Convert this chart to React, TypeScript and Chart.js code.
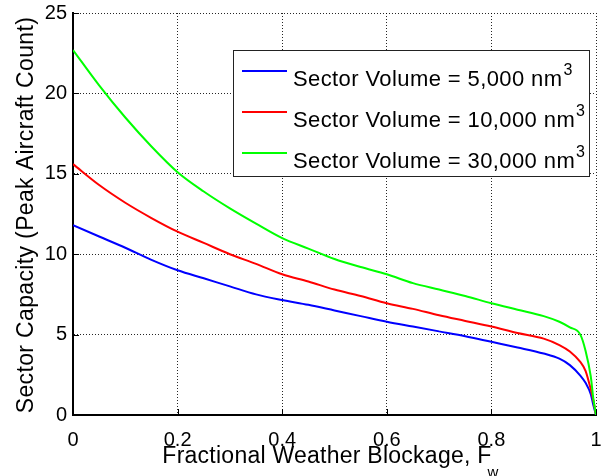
import React, { useEffect, useRef } from "react";
import { Chart, registerables } from "chart.js";

Chart.register(...registerables);

// ---------- data ----------
const fractionalBlockage = [
  0, 0.05, 0.1, 0.15, 0.2, 0.25, 0.3, 0.35, 0.4, 0.45, 0.5, 0.55, 0.6, 0.65,
  0.7, 0.75, 0.8, 0.85, 0.9, 0.93, 0.95, 0.97, 0.98, 0.99, 0.995, 1,
];
const capacity5000 = [
  11.8, 11.1, 10.4, 9.65, 9.0, 8.5, 8.0, 7.5, 7.15, 6.85, 6.5, 6.15, 5.8, 5.5,
  5.2, 4.9, 4.55, 4.2, 3.82, 3.5, 3.1, 2.45, 2.0, 1.3, 0.6, 0,
];
const capacity10000 = [
  15.6, 14.3, 13.2, 12.25, 11.4, 10.7, 10.0, 9.4, 8.75, 8.3, 7.8, 7.4, 6.95,
  6.6, 6.2, 5.85, 5.5, 5.1, 4.75, 4.35, 3.95, 3.3, 2.75, 1.6, 0.9, 0,
];
const capacity30000 = [
  22.7, 20.5, 18.5, 16.7, 15.1, 13.9, 12.85, 11.9, 11.0, 10.35, 9.7, 9.2, 8.75,
  8.2, 7.8, 7.4, 6.95, 6.55, 6.15, 5.8, 5.45, 5.0, 4.0, 2.4, 1.0, 0,
];
const seriesLabels = [
  "Sector Volume = 5,000 nm",
  "Sector Volume = 10,000 nm",
  "Sector Volume = 30,000 nm",
];
const unitSuperscript = "3";
const seriesColors = ["#0000ff", "#ff0000", "#00ff00"];
const xTickLabels = ["0", "0.2", "0.4", "0.6", "0.8", "1"];
const yTickLabels = ["0", "5", "10", "15", "20", "25"];
const xAxisTitle = "Fractional Weather Blockage, F";
const xAxisSubscript = "w";
const yAxisTitle = "Sector Capacity (Peak Aircraft Count)";

const FONT = "'Liberation Sans', Arial, Helvetica, sans-serif";

const decorations = {
  id: "decorations",
  afterDraw(chart: any) {
    const { ctx, chartArea, scales } = chart;
    const xs = scales.x;
    const ys = scales.y;
    ctx.save();
    // inward tick marks
    ctx.strokeStyle = "#000";
    ctx.lineWidth = 1;
    ctx.setLineDash([]);
    ctx.beginPath();
    for (const t of xs.ticks) {
      const px = Math.round(xs.getPixelForValue(t.value)) + 0.5;
      ctx.moveTo(px, chartArea.bottom);
      ctx.lineTo(px, chartArea.bottom - 6);
    }
    for (const t of ys.ticks) {
      const py = Math.round(ys.getPixelForValue(t.value)) + 0.5;
      ctx.moveTo(chartArea.left, py);
      ctx.lineTo(chartArea.left + 6, py);
    }
    ctx.stroke();

    // legend
    const lx = chartArea.right - 363;
    const ly = chartArea.top + 37;
    ctx.fillStyle = "#fff";
    ctx.fillRect(lx, ly, 356, 126);
    ctx.strokeStyle = "#222";
    ctx.lineWidth = 1;
    ctx.strokeRect(lx + 0.5, ly + 0.5, 356, 126);
    for (let i = 0; i < seriesLabels.length; i++) {
      const lineY = ly + 21 + i * 41;
      ctx.strokeStyle = seriesColors[i];
      ctx.lineWidth = 2;
      ctx.beginPath();
      ctx.moveTo(lx + 9, lineY);
      ctx.lineTo(lx + 54, lineY);
      ctx.stroke();
      ctx.fillStyle = "#000";
      ctx.textAlign = "left";
      ctx.textBaseline = "alphabetic";
      ctx.font = `22px ${FONT}`;
      (ctx as any).letterSpacing = "0.4px";
      const tx = lx + 60;
      const base = lineY + 15;
      ctx.fillText(seriesLabels[i], tx, base);
      const w = ctx.measureText(seriesLabels[i]).width;
      ctx.font = `16px ${FONT}`;
      (ctx as any).letterSpacing = "0px";
      ctx.fillText(unitSuperscript, tx + w + 1, base - 11);
    }

    // x axis title with subscript
    ctx.fillStyle = "#000";
    ctx.font = `23px ${FONT}`;
    (ctx as any).letterSpacing = "0.25px";
    ctx.textAlign = "left";
    ctx.textBaseline = "alphabetic";
    const mainW = ctx.measureText(xAxisTitle).width;
    ctx.font = `15px ${FONT}`;
    const subW = ctx.measureText(xAxisSubscript).width;
    const cx = (chartArea.left + chartArea.right) / 2 - 4;
    const startX = cx - (mainW + subW - 4) / 2;
    ctx.font = `23px ${FONT}`;
    ctx.fillText(xAxisTitle, startX, 463);
    ctx.font = `15px ${FONT}`;
    (ctx as any).letterSpacing = "0px";
    ctx.fillText(xAxisSubscript, startX + mainW - 4, 477);

    // y axis title
    ctx.save();
    ctx.translate(33, (chartArea.top + chartArea.bottom) / 2 + 1);
    ctx.rotate(-Math.PI / 2);
    ctx.font = `23px ${FONT}`;
    (ctx as any).letterSpacing = "0.35px";
    ctx.textAlign = "center";
    ctx.textBaseline = "alphabetic";
    ctx.fillText(yAxisTitle, 0, 0);
    ctx.restore();

    ctx.restore();
  },
};

export default function App() {
  const canvasRef = useRef<HTMLCanvasElement | null>(null);

  useEffect(() => {
    const canvas = canvasRef.current;
    if (!canvas) return;
    const makeSeries = (vals: number[]) =>
      fractionalBlockage.map((x, i) => ({ x, y: vals[i] }));
    const allSeries = [capacity5000, capacity10000, capacity30000];
    const chart = new Chart(canvas, {
      type: "line",
      data: {
        datasets: allSeries.map((vals, i) => ({
          label: seriesLabels[i],
          data: makeSeries(vals),
          borderColor: seriesColors[i],
          backgroundColor: seriesColors[i],
          borderWidth: 2,
          pointRadius: 0,
          cubicInterpolationMode: "monotone" as const,
          order: allSeries.length - 1 - i,
        })),
      },
      options: {
        responsive: false,
        animation: false,
        devicePixelRatio: 1,
        layout: { padding: { left: 0, right: 6, top: 13, bottom: 0 } },
        plugins: {
          legend: { display: false },
          tooltip: { enabled: false },
          title: { display: false },
        },
        scales: {
          x: {
            type: "linear",
            min: 0,
            max: 1,
            ticks: {
              stepSize: 0.2,
              padding: 0,
              color: "#000",
              font: { family: FONT, size: 20 },
              maxRotation: 0,
              callback: (v: any) => xTickLabels[Math.round(Number(v) / 0.2)],
            },
            grid: {
              color: "rgba(0,0,0,0.85)",
              lineWidth: 1,
              drawTicks: true,
              tickLength: 13,
              tickColor: "rgba(0,0,0,0)",
            },
            border: { display: true, color: "#000", width: 2, dash: [1, 2] },
            afterFit: (s: any) => {
              s.height = 61;
            },
          },
          y: {
            type: "linear",
            min: 0,
            max: 25,
            ticks: {
              stepSize: 5,
              padding: 0,
              color: "#000",
              font: { family: FONT, size: 20 },
              callback: (v: any) => yTickLabels[Math.round(Number(v) / 5)],
            },
            grid: {
              color: "rgba(0,0,0,0.85)",
              lineWidth: 1,
              drawTicks: true,
              tickLength: 6,
              tickColor: "rgba(0,0,0,0)",
            },
            border: { display: true, color: "#000", width: 2, dash: [1, 2] },
            afterFit: (s: any) => {
              s.width = 73;
            },
          },
        },
      },
      plugins: [decorations],
    });
    return () => chart.destroy();
  }, []);

  return (
    <div style={{ position: "absolute", left: 0, top: 0, width: 602, height: 476, background: "#fff" }}>
      <canvas ref={canvasRef} width={602} height={476} style={{ display: "block" }} />
    </div>
  );
}
